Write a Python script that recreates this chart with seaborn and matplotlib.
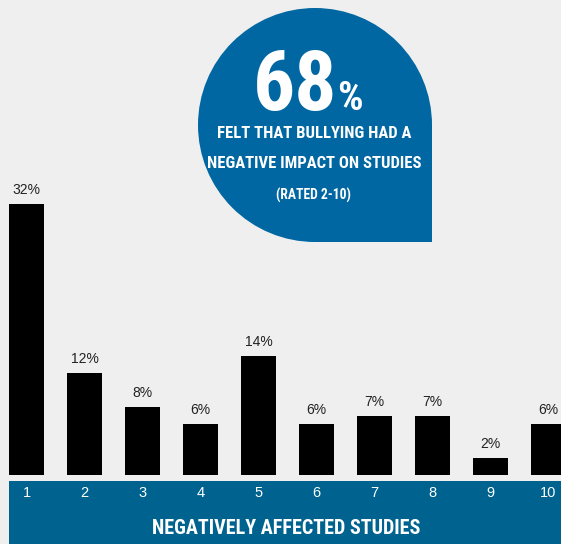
import matplotlib
matplotlib.use("Agg")
import matplotlib.pyplot as plt
from matplotlib import font_manager
from matplotlib.patches import Circle, Rectangle
import seaborn as sns

# data
ratings = ["1", "2", "3", "4", "5", "6", "7", "8", "9", "10"]
shares = [32, 12, 8, 6, 14, 6, 7, 7, 2, 6]
headline = "68"
headline_lines = ["FELT THAT BULLYING HAD A", "NEGATIVE IMPACT ON STUDIES"]
note = "(RATED 2-10)"
axis_title = "NEGATIVELY AFFECTED STUDIES"

# pick a narrow display face if one is installed
fonts = font_manager.fontManager.ttflist
names = {f.name for f in fonts}
narrow = None
for cand in ["Roboto Condensed", "Liberation Sans Narrow", "DejaVu Sans Condensed",
             "Open Sans Condensed", "Noto Sans Condensed"]:
    if cand in names:
        narrow = cand
        break
if narrow is None:
    for f in fonts:
        if "ondensed" in str(f.stretch) or "arrow" in f.name:
            narrow = f.name
            break
if narrow is None:
    narrow = "Roboto" if "Roboto" in names else "DejaVu Sans"

bg = "#efefef"
blue = "#0067a2"
band_blue = "#00638f"

sns.set_theme(style="white")
plt.rcParams["font.family"] = ["Liberation Sans", "DejaVu Sans"]

W, H = 561, 544
fig = plt.figure(figsize=(W / 100, H / 100), dpi=100, facecolor=bg)

# pixel-space overlay for the bubble and the bottom band
over = fig.add_axes([0, 0, 1, 1], zorder=0)
over.set_xlim(0, W)
over.set_ylim(H, 0)
over.axis("off")
over.set_facecolor(bg)

cx, cy, r = 315, 125, 117
over.add_patch(Circle((cx, cy), r, color=blue, lw=0))
over.add_patch(Rectangle((cx, cy), r, r, color=blue, lw=0))
over.add_patch(Rectangle((9, 481), W - 9, H - 481, color=band_blue, lw=0))

big = dict(color="white", fontweight="bold", family=narrow)
over.text(337, 110, headline, fontsize=60, ha="right", va="baseline", **big)
over.text(337, 110, "%", fontsize=29, ha="left", va="baseline", **big)
over.text(314, 133, headline_lines[0], fontsize=12, ha="center", va="center", **big)
over.text(314, 164, headline_lines[1], fontsize=12, ha="center", va="center", **big)
over.text(314, 195, note, fontsize=9.8, ha="center", va="center", **big)
over.text(286, 529, axis_title, fontsize=14.5, ha="center", va="center", **big)

# bar chart
base = 475
ax = fig.add_axes([0, 1 - base / H, 1, base / H], zorder=1)
ax.patch.set_alpha(0)
sns.barplot(x=ratings, y=shares, color="black", saturation=1, width=0.6,
            edgecolor="black", linewidth=0, ax=ax)
ax.set_xlim(-26.5 / 58, (W - 26.5) / 58)
ax.set_ylim(0, base / 8.47)
ax.bar_label(ax.containers[0], fmt="%d%%", padding=5, fontsize=10, color="#222222")
ax.set_xlabel("")
ax.set_ylabel("")
ax.set_yticks([])
ax.tick_params(axis="x", length=0, pad=8, labelsize=10.5, labelcolor="white")
sns.despine(ax=ax, left=True, bottom=True)

fig.savefig("out.png", dpi=100, facecolor=bg)
